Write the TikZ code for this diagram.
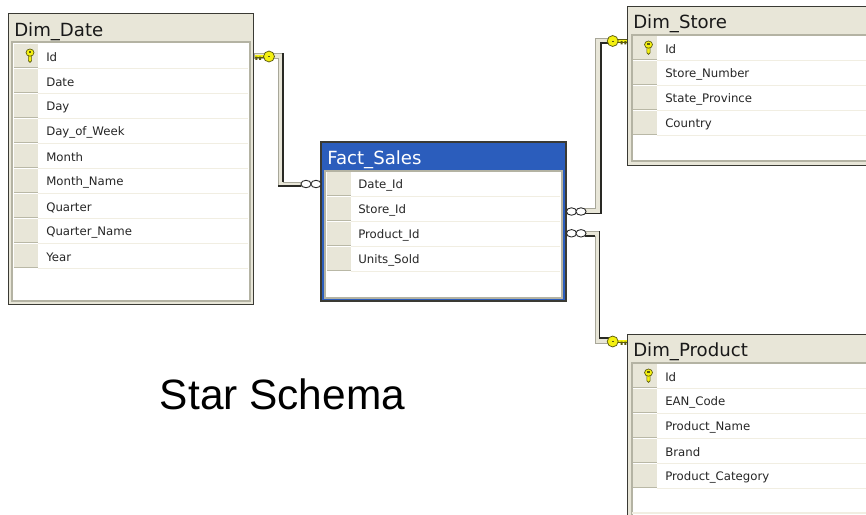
\documentclass[tikz,border=0pt]{standalone}
\usepackage{fontspec}
\usetikzlibrary{shapes.geometric}
\setmainfont{Liberation Sans}
\newfontfamily\uifont{DejaVu Sans}
\definecolor{panel}{HTML}{E8E6D8}
\definecolor{edge}{HTML}{3A3A34}
\definecolor{inedge}{HTML}{B4B3A3}
\definecolor{rowline}{HTML}{F1EEE2}
\definecolor{gutline}{HTML}{B9B8A6}
\definecolor{factblue}{HTML}{2B5DBC}
\definecolor{keyy}{HTML}{F4F010}
\definecolor{keyo}{HTML}{5A5A10}
\definecolor{bandgray}{HTML}{A8A799}
\tikzset{
 x=0.75pt,y=-0.75pt,
 frame/.style={draw=edge,line width=0.8pt,fill=panel,inner sep=0pt,rectangle},
 inner/.style={draw=inedge,line width=0.8pt,fill=white},
 ttl/.style={anchor=west,inner sep=0pt,font=\uifont\fontsize{13.6}{15}\selectfont,text=black!90,yshift=-1.6pt},
 fld/.style={anchor=west,inner sep=0pt,font=\uifont\fontsize{8.8}{10}\selectfont,text=black!85,yshift=-1.1pt},
 band/.style={fill=panel,draw=bandgray,line width=0.6pt,line join=miter},
 linkdark/.style={draw=edge!70!black,line width=0.95pt,line join=miter},
 crow/.style={ellipse,draw=black!85,fill=white,line width=0.65pt,minimum width=7.6pt,minimum height=5.6pt,inner sep=0pt},
 keyring/.style={circle,draw=keyo,fill=keyy,line width=0.55pt,minimum size=8.2pt,inner sep=0pt},
}
\newcommand{\rowband}[4]{% left x, right x, gutter right, centre y
 \fill[panel] (#1,#4-12) rectangle (#3,#4+12);
 \draw[gutline,line width=1pt] (#1,#4+11.5) -- (#3,#4+11.5);
 \draw[rowline,line width=0.9pt] (#3,#4+12.5) -- (#2,#4+12.5);
}
\newcommand{\tablekey}[2]{% centre x,y
 \begin{scope}[shift={(#1,#2)}]
 \draw[keyo,line width=0.5pt,fill=keyy] (-1.6,0) -- (1.6,0) -- (1.6,5.8) -- (0,7.4) -- (-1.6,5.8) -- cycle;
 \draw[keyo,line width=0.5pt,fill=keyy] (0,-2.4) ellipse (4 and 3.6);
 \fill[keyo] (-1.4,-3.6) rectangle (1.4,-2.4);
 \end{scope}
}
\newcommand{\linkkey}[4]{% ring centre x,y ; direction ; shaft length
 \begin{scope}[shift={(#1,#2)},xscale=#3]
 \fill[keyo] (2,-2) rectangle (#4,1.6);
 \fill[keyy] (2,-1.4) rectangle (#4,0.6);
 \fill[keyo] (8,0) rectangle (10,3.4) (11.6,0) rectangle (13.6,3.4);
 \node[keyring] at (0,0) {};
 \fill[keyo] (-0.5,-0.5) rectangle (0.9,0.5);
 \end{scope}
}
\begin{document}
\begin{tikzpicture}
\useasboundingbox (0,0) rectangle (866,514);
\fill[white] (0,0) rectangle (866,514);

% connector shapes
\coordinate (da) at (254,53);
\coordinate (db) at (283,53);
\coordinate (dc) at (283,182);
\coordinate (dd) at (301,182);
\coordinate (de) at (301,186);
\coordinate (df) at (278,186);
\coordinate (dg) at (278,58);
\coordinate (dh) at (254,58);
\draw[band] (da) -- (db) -- (dc) -- (dd) -- (de) -- (df) -- (dg) -- (dh) -- cycle;
\draw[linkdark] (db) -- (dc);
\draw[linkdark] (df) -- (de);

\coordinate (sa) at (585,208);
\coordinate (sb) at (595,208);
\coordinate (sc) at (595,38);
\coordinate (sd) at (614,38);
\coordinate (se) at (614,43);
\coordinate (sf) at (601,43);
\coordinate (sg) at (601,213.5);
\coordinate (sh) at (585,213.5);
\draw[band] (sa) -- (sb) -- (sc) -- (sd) -- (se) -- (sf) -- (sg) -- (sh) -- cycle;
\draw[linkdark] (se) -- (sf) -- (sg) -- (sh);

\coordinate (pa) at (585,231);
\coordinate (pb) at (599.5,231);
\coordinate (pc) at (599.5,338);
\coordinate (pd) at (614,338);
\coordinate (pe) at (614,343);
\coordinate (pf) at (595,343);
\coordinate (pg) at (595,236);
\coordinate (ph) at (585,236);
\draw[band] (pa) -- (pb) -- (pc) -- (pd) -- (pe) -- (pf) -- (pg) -- (ph) -- cycle;
\draw[linkdark] (pb) -- (pc) -- (pd);
\draw[linkdark] (pg) -- (ph);

% Dim_Date
\node[frame,minimum width=183.75pt,minimum height=218.25pt] (dimdate) at (131,159) {};
\fill[white] (12,42) rectangle (250,301);
\draw[inner,fill=none] (12,42) rectangle (250,301);
\foreach \yy in {56,81,106,131,156,181,206,231,256}{\rowband{14}{248}{38}{\yy}}
\node[ttl] (tdate) at (14,30) {Dim\_Date};
\node[fld] (f1) at (46,56) {Id};
\node[fld] (f2) at (46,81) {Date};
\node[fld] (f3) at (46,106) {Day};
\node[fld] (f4) at (46,131) {Day\_of\_Week};
\node[fld] (f5) at (46,156) {Month};
\node[fld] (f6) at (46,181) {Month\_Name};
\node[fld] (f7) at (46,206) {Quarter};
\node[fld] (f8) at (46,231) {Quarter\_Name};
\node[fld] (f9) at (46,256) {Year};
\tablekey{30}{55}

% Fact_Sales
\node[frame,fill=factblue,draw=edge,minimum width=183.75pt,minimum height=119.25pt] (fact) at (443.5,221.5) {};
\fill[white] (325,171) rectangle (562,298);
\draw[inner,fill=none] (325,171) rectangle (562,298);
\foreach \yy in {184,209,234,259}{\rowband{327}{560}{351}{\yy}}
\node[ttl,text=white] (tfact) at (327,158) {Fact\_Sales};
\node[fld] (g1) at (358,184) {Date\_Id};
\node[fld] (g2) at (358,209) {Store\_Id};
\node[fld] (g3) at (358,234) {Product\_Id};
\node[fld] (g4) at (358,259) {Units\_Sold};

% Dim_Store
\node[frame,minimum width=200pt,minimum height=119.25pt,anchor=north west] (dimstore) at (627,5.5) {};
\fill[white] (632,35) rectangle (866.5,161);
\draw[inner,fill=none] (632,35) rectangle (880,161);
\foreach \yy in {48,73,98,123}{\rowband{633}{880}{657}{\yy}}
\node[ttl] (tstore) at (633,22) {Dim\_Store};
\node[fld] (h1) at (665,48) {Id};
\node[fld] (h2) at (665,73) {Store\_Number};
\node[fld] (h3) at (665,98) {State\_Province};
\node[fld] (h4) at (665,123) {Country};
\tablekey{648.5}{47}

% Dim_Product
\node[frame,minimum width=200pt,minimum height=150pt,anchor=north west] (dimprod) at (627,334) {};
\fill[white] (632,363) rectangle (866.5,520);
\draw[inner,fill=none] (632,363) rectangle (880,530);
\foreach \yy in {376,401,426,451,476}{\rowband{633}{880}{657}{\yy}}
\draw[rowline,line width=0.9pt] (632,513) -- (866,513);
\node[ttl] (tprod) at (633,350) {Dim\_Product};
\node[fld] (k1) at (665,376) {Id};
\node[fld] (k2) at (665,401) {EAN\_Code};
\node[fld] (k3) at (665,426) {Product\_Name};
\node[fld] (k4) at (665,451) {Brand};
\node[fld] (k5) at (665,476) {Product\_Category};
\tablekey{648.5}{375}

% connector ends
\node[crow] (c1) at (306,184) {};
\node[crow] (c2) at (316,184) {};
\node[crow] (c3) at (571.5,211.5) {};
\node[crow] (c4) at (581,211.5) {};
\node[crow] (c5) at (571.5,233.3) {};
\node[crow] (c6) at (581,233.3) {};
\linkkey{269}{56.5}{-1}{14}
\linkkey{612.7}{41}{1}{14.3}
\linkkey{612.7}{341.5}{1}{14.3}

\node[anchor=base,inner sep=0pt,text=black] (cap) at (282.5,409) {\fontsize{31.8}{36}\selectfont Star Schema};
\end{tikzpicture}
\end{document}
